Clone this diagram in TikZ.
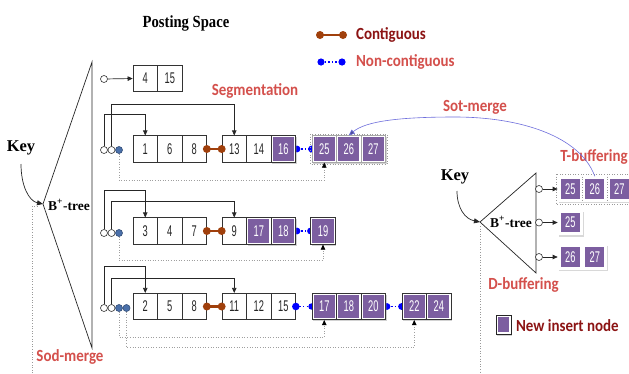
\documentclass[tikz,border=0pt]{standalone}
\usepackage{fontspec}
\setmainfont{Liberation Serif}
\newfontfamily\lblfont{Carlito}
\newfontfamily\numfont[FakeStretch=0.6]{Liberation Sans}
\usetikzlibrary{arrows.meta,shadows,calc}
\definecolor{insertpurple}{RGB}{124,94,160}
\definecolor{darkred}{RGB}{140,20,20}
\definecolor{lightred}{RGB}{212,80,76}
\definecolor{chain}{RGB}{160,64,12}
\definecolor{mergeblue}{RGB}{110,110,220}
\definecolor{ptrblue}{RGB}{74,112,170}
\begin{document}
\begin{tikzpicture}[x=1pt,y=-1pt,
  cell/.style={draw=black!80, line width=0.7pt, fill=white,
    minimum width=24.5pt, minimum height=26.5pt, inner sep=0pt,
    font=\numfont\fontsize{15.5}{15.5}\selectfont, text=black!85},
  purplefill/.style={path picture={\fill[insertpurple]
      ([shift={(#1,-#1)}]path picture bounding box.north west) rectangle
      ([shift={(-#1,#1)}]path picture bounding box.south east);}},
  pcell/.style={cell, text=white, purplefill=1.7pt,
    drop shadow={opacity=0.35, shadow xshift=1pt, shadow yshift=-1.5pt}},
  rcell/.style={cell, draw=none, text=white, purplefill=2.6pt,
    minimum height=25pt,
    drop shadow={opacity=0.3, shadow xshift=1pt, shadow yshift=-1.5pt}},
  wc/.style={circle, draw=black!80, fill=white, minimum size=7pt,
    inner sep=0pt, line width=0.6pt},
  bc/.style={wc, fill=ptrblue, draw=ptrblue!70!black},
  conn/.style={draw=black!85, line width=0.7pt,
    -{Triangle[length=5pt,width=4.5pt]}},
  dconn/.style={draw=gray!75, line width=0.6pt, dotted,
    -{Triangle[length=5pt,width=4.5pt,black]}},
  contig/.style={draw=chain, line width=2.6pt},
  noncontig/.style={draw=blue, line width=1.6pt, dash pattern=on 1.4pt off 2.2pt},
  tribox/.style={draw=black!85, line width=0.7pt},
  redlbl/.style={font=\lblfont\bfseries\fontsize{17}{17}\selectfont, xscale=0.88, text=lightred},
  serifbold/.style={font=\bfseries\fontsize{#1}{#1}\selectfont},
  frame/.style={draw=gray!80, dotted, line width=0.6pt}
]
\fill[white] (0,0) rectangle (629,373);
\useasboundingbox (0,0) rectangle (629,373);

% ---------- titles and legend ----------
\node[serifbold=17, xscale=0.86, anchor=base] (title) at (186,27) {Posting Space};

\coordinate (lgA1) at (320,35); \coordinate (lgA2) at (343,35);
\draw[contig] (lgA1) -- (lgA2);
\fill[chain] (lgA1) circle (4pt) (lgA2) circle (4pt);
\node[redlbl, text=darkred, anchor=west] (lgAt) at (353,35) {Contiguous};

\coordinate (lgB1) at (321,62); \coordinate (lgB2) at (342,62);
\draw[noncontig] (lgB1) -- (lgB2);
\fill[blue] (lgB1) circle (3.6pt) (lgB2) circle (3.6pt);
\node[redlbl, anchor=west] (lgBt) at (353,62) {Non-contiguous};

% ---------- left B+-tree ----------
\coordinate (apexL) at (43,204);
\coordinate (topL) at (92,62);
\coordinate (botL) at (92,348);
\draw[tribox] (topL) -- (apexL) -- (botL) -- cycle;
\node[serifbold=16.5] (keyL) at (21,148) {Key};
\draw[draw=black!85, line width=0.7pt, -{Triangle[length=6pt,width=5pt]}]
  (21,164) .. controls (21,186) and (29,201) .. (apexL);
\node[font=\bfseries\fontsize{13.5}{13.5}\selectfont] (treeL) at (69,205) {B\textsuperscript{+}-tree};
\draw[frame] (32,373) |- (38,206);
\node[redlbl] (sodm) at (70,357) {Sod-merge};

% ---------- row 1 ----------
\node[cell] (a4) at (145.25,78.5) {4};
\node[cell] (a15) at (169.75,78.5) {15};
\node[wc] (r1) at (104,79) {};
\draw[conn] (r1) -- (a4.west);

% ---------- row 2 ----------
\node[redlbl] (segm) at (255,91) {Segmentation};
\node[cell] (b1) at (145.25,149) {1};
\node[cell] (b6) at (169.75,149) {6};
\node[cell] (b8) at (194.25,149) {8};
\node[cell] (b13) at (234.25,149) {13};
\node[cell] (b14) at (258.75,149) {14};
\draw[noncontig] (283.25,149) -- (324.25,149);
\fill[blue] (297,149) circle (3.4pt) (311.5,149) circle (3.4pt);
\node[pcell] (b16) at (283.25,149) {16};
\draw[frame] (310.5,134) rectangle (387,164);
\node[pcell, draw=gray!70] (b25) at (324.25,149) {25};
\node[pcell, draw=gray!70] (b26) at (348.75,149) {26};
\node[pcell, draw=gray!70] (b27) at (373.25,149) {27};
\draw[contig] (b8.east) -- (b13.west);
\fill[chain] (b8.east) circle (4pt) (b13.west) circle (4pt);
\node[wc] (r2a) at (104,150) {};
\node[wc] (r2b) at (111.5,150) {};
\node[bc] (r2c) at (119,150) {};
\draw[conn] (r2a.north) -- ++(0,-32) -| (b1.north);
\draw[conn] (r2b.north) -- ++(0,-42) -| (b13.north);
\draw[dconn] (r2c.south) -- ++(0,26.5) -| (b25.south);

% ---------- row 3 ----------
\node[cell] (c3) at (145.25,231) {3};
\node[cell] (c4) at (169.75,231) {4};
\node[cell] (c7) at (194.25,231) {7};
\node[cell] (c9) at (234.25,231) {9};
\draw[noncontig] (283.25,231) -- (323,231);
\fill[blue] (297,231) circle (3.4pt) (310.5,231) circle (3.4pt);
\node[pcell] (c17) at (258.75,231) {17};
\node[pcell] (c18) at (283.25,231) {18};
\node[pcell] (c19) at (323,231) {19};
\draw[contig] (c7.east) -- (c9.west);
\fill[chain] (c7.east) circle (4pt) (c9.west) circle (4pt);
\node[wc] (r3a) at (104,233) {};
\node[wc] (r3b) at (111.5,233) {};
\node[bc] (r3c) at (119,233) {};
\draw[conn] (r3a.north) -- ++(0,-38.5) -| (c3.north);
\draw[conn] (r3b.north) -- ++(0,-27.5) -| (c9.north);
\draw[dconn] (r3c.south) -- ++(0,23.5) -| (c19.south);

% ---------- row 4 ----------
\node[cell] (d2) at (145.25,306.5) {2};
\node[cell] (d5) at (169.75,306.5) {5};
\node[cell] (d8) at (194.25,306.5) {8};
\node[cell] (d11) at (234.25,306.5) {11};
\node[cell] (d12) at (258.75,306.5) {12};
\node[cell] (d15) at (283.25,306.5) {15};
\draw[noncontig] (d15.east) -- (324.25,306.5);
\fill[blue] (d15.east) circle (3.8pt) (311.5,306.5) circle (3.2pt);
\draw[noncontig] (373.25,306.5) -- (414.25,306.5);
\fill[blue] (387,306.5) circle (3.4pt) (401.5,306.5) circle (3.4pt);
\node[pcell] (d17) at (324.25,306.5) {17};
\node[pcell] (d18) at (348.75,306.5) {18};
\node[pcell] (d20) at (373.25,306.5) {20};
\node[pcell] (d22) at (414.25,306.5) {22};
\node[pcell] (d24) at (438.75,306.5) {24};
\draw[contig] (d8.east) -- (d11.west);
\fill[chain] (d8.east) circle (4pt) (d11.west) circle (4pt);
\node[wc] (r4a) at (104,308) {};
\node[wc] (r4b) at (111.5,308) {};
\node[bc] (r4c) at (119,308) {};
\node[bc] (r4d) at (126.5,308) {};
\draw[conn] (r4a.north) -- ++(0,-37.5) -| (d2.north);
\draw[conn] (r4b.north) -- ++(0,-25.5) -| (d11.north);
\draw[dconn] (r4c.south) -- ++(0,25.5) -| (d17.south);
\draw[dconn] (r4d.south) -- ++(0,35.5) -| (d22.south);

% ---------- right B+-tree with buffers ----------
\coordinate (apexR) at (480,222);
\coordinate (topR) at (536,173);
\coordinate (botR) at (536,273);
\draw[tribox] (topR) -- (apexR) -- (botR) -- cycle;
\node[serifbold=16.5] (keyR) at (455,177) {Key};
\draw[draw=black!85, line width=0.7pt, -{Triangle[length=6pt,width=5pt]}]
  (457,191) .. controls (457,208) and (465,219) .. (apexR);
\node[font=\bfseries\fontsize{13.5}{13.5}\selectfont] (treeR) at (511,222) {B\textsuperscript{+}-tree};
\draw[frame] (480,226) -- (480,373);

\draw[frame] (556,174) rectangle (640,204);
\node[rcell] (t25) at (570.25,189) {25};
\node[rcell] (t26) at (594.75,189) {26};
\node[rcell] (t27) at (619.25,189) {27};
\draw[frame] (582.5,176.5) -- (582.5,201.5) (607,176.5) -- (607,201.5);
\node[rcell] (u25) at (570.25,222.5) {25};
\node[rcell] (v26) at (570.25,257) {26};
\node[rcell] (v27) at (594.75,257) {27};
\node[wc] (rt1) at (539,189) {};
\node[wc] (rt2) at (539,222.5) {};
\node[wc] (rt3) at (539,257) {};
\draw[conn] (rt1) -- (t25.west);
\draw[conn] (rt2) -- (u25.west);
\draw[conn] (rt3) -- (v26.west);

\node[redlbl] (tbuf) at (594,157) {T-buffering};
\node[redlbl] (dbuf) at (523.5,285) {D-buffering};

% ---------- Sot-merge curve ----------
\draw[mergeblue, line width=0.6pt, -{Triangle[length=6pt,width=5pt,fill=mergeblue!70!black]}]
  (t26.north) .. controls (580,136) and (520,117) .. (455,117)
  .. controls (400,117) and (366,121) .. (b26.north);
\node[redlbl] (sotm) at (475,107) {Sot-merge};

% ---------- legend: new insert node ----------
\node[pcell, minimum width=15pt, minimum height=19pt, draw=black!85] (lgC) at (503.5,324.5) {};
\node[font=\lblfont\bfseries\fontsize{17}{17}\selectfont, xscale=0.88, text=darkred, anchor=west] (lgCt) at (513,326) {New insert node};
\end{tikzpicture}
\end{document}
